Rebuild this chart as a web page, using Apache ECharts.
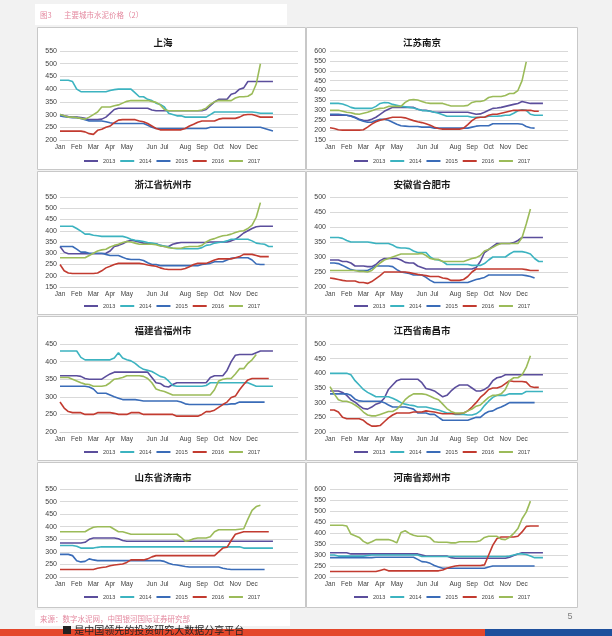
<!DOCTYPE html>
<html><head><meta charset="utf-8">
<script src="https://cdn.jsdelivr.net/npm/echarts@6/dist/echarts.min.js"></script>
<style>html,body{margin:0;padding:0;background:#f2f2f2;}#c{width:612px;height:636px;}</style>
</head><body><div id="c"></div>
<script>
// ---------- DATA ----------
const years = ['2013', '2014', '2015', '2016', '2017'];
// month of each weekly observation (52 weeks)
const weekMonth = ['Jan','Jan','Jan','Jan','Feb','Feb','Feb','Feb','Mar','Mar','Mar','Mar',
  'Apr','Apr','Apr','Apr','May','May','May','May','May','May','Jun','Jun','Jun',
  'Jul','Jul','Jul','Jul','Jul','Aug','Aug','Aug','Aug','Sep','Sep','Sep','Sep',
  'Oct','Oct','Oct','Oct','Nov','Nov','Nov','Nov','Dec','Dec','Dec','Dec','Dec','Dec'];
const cityNames = ['上海', '江苏南京', '浙江省杭州市', '安徽省合肥市', '福建省福州市', '江西省南昌市', '山东省济南市', '河南省郑州市'];
const yMin = [200, 150, 150, 200, 200, 200, 200, 200];
const yMax = [550, 600, 550, 500, 450, 500, 550, 600];
const yStep = 50;

const shanghai = [
  [300,295,292,290,290,288,285,280,280,280, 282,290,305,320,325,325,325,325,325,325, 325,325,318,315,315,315,315,315,315,315, 315,315,315,315,315,320,335,350,360,360, 360,380,385,400,405,430,430,430,430,430, 430,430],
  [435,435,435,430,400,390,390,390,390,390, 390,390,395,398,400,400,400,400,385,370, 370,360,355,345,340,330,305,300,295,295, 290,290,290,290,290,290,300,310,310,310, 310,310,310,310,310,310,310,308,305,305, 305,305],
  [295,292,290,288,288,285,280,275,275,275, 275,272,268,265,265,265,265,265,265,265, 265,258,250,245,245,245,245,245,245,245, 245,245,245,245,245,245,250,250,250,250, 250,250,250,250,250,250,250,250,250,245, 240,235],
  [235,235,235,235,235,235,232,225,222,238, 242,250,255,268,278,280,280,280,280,275, 272,265,255,245,240,240,240,240,240,240, 245,255,262,270,275,275,275,275,282,285, 285,285,285,290,298,300,300,295,290,290, 290,290],
  [300,295,290,290,288,285,282,290,300,310, 330,330,330,335,338,345,352,355,355,355, 355,355,352,348,338,320,315,315,315,315, 315,315,315,315,318,325,340,350,355,355, 355,355,365,370,370,372,382,420,500,null, null,null]
];
const nanjing = [
  [275,275,275,275,275,272,265,255,250,248, 255,265,280,295,305,315,315,315,315,315, 315,305,300,300,295,290,290,290,290,290, 290,290,290,290,285,280,282,290,300,310, 312,315,320,325,330,335,345,340,335,335, 335,335],
  [335,335,335,332,325,315,310,310,310,310, 310,320,335,340,338,330,325,320,318,315, 312,305,300,298,295,290,285,278,270,270, 270,270,270,270,265,265,265,265,270,270, 270,272,275,275,285,298,303,300,280,275, 275,275],
  [280,280,280,278,275,270,262,252,245,240, 240,248,255,255,250,240,230,222,220,218, 218,218,215,215,215,210,210,210,210,210, 210,210,210,210,215,220,222,222,222,232, 232,232,232,232,232,232,230,218,212,210, null,null],
  [212,208,202,200,200,200,200,200,202,215, 230,242,250,255,260,265,265,265,262,255, 248,242,238,232,225,215,208,205,205,205, 205,205,210,228,248,262,265,265,275,280, 280,285,290,295,300,300,300,300,300,295, 295,null],
  [300,300,300,295,290,288,282,280,285,290, 298,305,310,312,320,320,320,320,340,352, 355,352,345,338,335,335,335,335,328,322, 322,322,322,325,340,345,345,350,365,370, 370,370,375,385,385,400,450,545,null,null, null,null]
];
const hangzhou = [
  [330,305,298,298,298,298,298,298,298,298, 298,300,310,330,335,342,352,358,355,350, 345,342,342,342,335,330,330,340,345,348, 348,348,348,348,348,348,350,350,350,350, 350,355,362,375,390,400,410,418,420,420, 420,420],
  [420,420,420,420,410,398,385,385,380,378, 375,375,375,375,375,375,370,362,358,355, 352,348,345,342,335,332,328,322,320,320, 320,320,320,320,325,335,338,345,348,350, 355,362,362,362,362,362,355,345,342,340, 330,330],
  [330,330,330,330,318,305,305,300,300,300, 300,295,290,290,290,282,275,272,272,272, 268,258,250,250,245,245,245,245,245,245, 245,245,245,245,250,252,255,262,262,262, 270,278,280,280,280,280,270,252,250,250, null,null],
  [250,222,212,210,210,210,210,210,210,212, 222,235,242,250,255,255,255,255,255,255, 252,248,245,242,235,230,228,228,228,228, 232,240,250,255,255,255,262,270,275,275, 275,275,280,285,295,295,295,290,285,285, 285,null],
  [280,280,280,280,280,280,280,290,300,310, 315,318,328,335,340,348,352,350,345,340, 340,340,340,338,332,330,325,322,322,322, 328,330,330,330,335,350,360,365,372,378, 380,385,392,398,400,410,425,460,525,null, null,null]
];
const hefei = [
  [290,290,290,285,285,280,270,270,270,268, 268,275,288,295,295,295,295,290,282,280, 280,270,265,260,260,260,260,260,260,260, 260,260,260,260,260,265,285,315,325,335, 345,345,345,345,348,355,365,365,365,365, 365,365],
  [365,365,365,362,355,350,350,350,350,350, 348,345,345,345,345,340,332,330,330,328, 320,315,315,315,300,292,290,285,275,275, 275,275,275,275,272,272,272,278,290,300, 300,300,300,310,318,318,318,315,310,295, 285,285],
  [280,280,278,272,265,258,255,255,255,255, 262,270,270,270,270,268,258,250,248,245, 240,240,240,232,222,215,215,215,215,215, 215,215,215,215,220,225,228,232,240,240, 240,240,240,240,240,240,240,238,235,230, null,null],
  [230,228,225,222,220,220,220,215,215,212, 218,228,238,250,250,250,250,250,250,248, 245,242,240,238,235,235,235,230,228,222, 222,222,225,235,250,260,260,260,260,260, 260,260,260,260,260,260,260,258,255,255, 255,null],
  [255,255,255,255,255,255,255,252,252,250, 255,268,280,290,295,300,305,310,310,310, 310,310,312,305,295,292,292,285,285,285, 285,285,285,290,295,298,305,320,325,332, 340,345,345,345,345,345,365,410,460,null, null,null]
];
const fuzhou = [
  [360,360,360,360,360,358,352,350,350,350, 350,358,365,370,370,370,370,370,370,370, 370,370,355,340,338,330,328,335,340,340, 340,340,340,340,340,340,355,360,360,360, 375,400,418,420,420,420,420,425,430,430, 430,430],
  [430,430,430,430,430,412,405,405,405,405, 405,405,405,410,425,410,405,402,395,385, 378,375,372,365,358,355,345,332,330,330, 330,330,330,330,330,332,340,340,340,340, 340,340,340,340,340,340,335,330,330,330, 330,330],
  [330,330,330,330,330,330,330,328,322,310, 310,310,305,300,296,292,292,292,292,290, 288,288,288,288,288,288,288,288,288,285, 280,278,278,278,278,278,278,278,278,278, 278,280,280,285,285,285,285,285,285,285, null,null],
  [285,268,258,255,255,255,250,250,250,255, 255,255,255,253,250,250,250,255,255,255, 250,250,250,250,250,250,250,250,245,245, 245,245,245,245,250,258,258,262,270,278, 285,298,302,320,335,348,352,352,352,352, 352,null],
  [355,355,355,350,345,340,336,335,330,330, 330,332,340,350,352,355,360,360,360,360, 358,352,340,322,318,315,310,305,305,305, 305,305,305,305,305,305,305,320,345,350, 352,352,365,380,380,395,405,420,null,null, null,null]
];
const nanchang = [
  [340,340,340,335,325,310,302,290,280,278, 285,295,300,315,345,360,375,380,380,380, 380,380,368,348,345,340,330,320,325,340, 352,360,360,360,350,340,340,345,355,375, 385,388,395,395,395,395,395,395,395,395, 395,395],
  [400,400,400,400,400,395,375,360,345,335, 328,320,320,320,320,315,308,300,295,292, 290,285,285,285,282,278,275,270,265,265, 260,260,260,258,258,262,272,290,305,318, 325,325,325,330,330,330,330,338,338,338, 338,338],
  [330,330,330,330,330,325,312,306,305,305, 305,305,305,300,292,285,285,285,285,282, 278,265,265,265,260,260,250,240,240,240, 240,240,240,240,245,250,250,262,270,272, 280,285,292,300,300,300,300,300,300,300, null,null],
  [275,275,268,250,245,245,245,245,240,228, 220,220,222,235,248,258,265,265,265,265, 268,268,268,272,270,268,265,262,262,262, 262,262,265,272,285,300,318,330,345,350, 350,355,365,375,372,372,372,370,355,352, 352,null],
  [355,330,310,305,305,300,292,282,268,258, 255,255,260,265,270,270,278,292,310,322, 330,330,330,328,322,315,310,295,280,270, 265,265,265,272,278,288,292,305,318,325, 325,330,345,375,385,385,395,420,460,null, null,null]
];
const jinan = [
  [335,335,335,335,335,335,338,350,355,355, 355,355,355,355,352,345,342,342,342,342, 342,342,342,342,342,342,342,342,342,342, 342,342,342,342,342,342,342,342,342,342, 342,342,342,342,342,342,342,342,342,342, 342,342],
  [325,325,325,325,322,315,315,315,315,318, 320,320,320,320,320,320,320,320,320,320, 320,320,320,320,320,320,320,320,320,320, 320,320,320,320,320,320,320,320,320,320, 320,320,320,320,315,315,315,315,315,315, 315,315],
  [290,290,290,285,265,260,262,272,268,265, 265,265,265,265,265,265,265,265,265,265, 265,265,265,265,265,262,255,250,248,245, 242,240,240,240,240,240,240,240,240,235, 232,230,230,230,230,230,230,230,230,230, null,null],
  [230,230,230,230,230,230,230,230,230,235, 238,240,245,248,250,252,258,268,268,268, 268,272,280,285,285,285,285,285,285,285, 285,285,285,285,285,285,285,285,300,315, 318,345,370,375,380,380,380,380,380,380, 380,null],
  [380,380,380,380,380,380,380,390,398,400, 400,400,400,390,380,380,375,370,370,370, 370,370,370,370,370,370,370,370,370,358, 342,345,352,355,355,355,360,380,388,388, 388,388,388,390,392,430,465,480,485,null, null,null]
];
const zhengzhou = [
  [310,310,310,310,310,305,305,305,305,305, 305,305,305,305,305,305,305,305,305,305, 305,305,300,295,295,295,295,295,295,288, 285,285,285,285,285,285,285,285,285,285, 285,285,285,290,298,305,310,310,310,310, 310,310],
  [300,300,295,295,295,295,295,295,295,298, 300,300,300,300,300,300,300,300,300,300, 300,300,293,293,293,293,293,293,293,293, 293,293,293,293,293,293,293,293,293,293, 293,293,293,295,300,305,305,302,295,288, 288,288],
  [288,288,288,288,288,288,288,288,288,288, 288,290,290,290,290,290,290,290,290,290, 290,280,270,268,262,252,245,240,240,240, 240,240,240,240,240,240,240,240,245,250, 250,250,250,250,250,250,250,250,250,250, null,null],
  [225,225,225,225,225,225,225,225,225,225, 225,225,230,235,228,228,228,228,228,228, 228,228,228,228,228,228,228,232,240,245, 250,252,252,252,252,252,252,255,300,345, 375,382,382,382,382,385,405,430,432,432, 432,null],
  [435,435,435,435,432,395,388,380,362,352, 360,370,370,370,370,365,355,402,410,398, 390,385,385,385,378,360,358,358,358,355, 355,360,360,360,360,360,365,380,385,385, 385,372,370,380,398,420,465,495,545,null, null,null]
];
const cityData = [shanghai, nanjing, hangzhou, hefei, fuzhou, nanchang, jinan, zhengzhou];

// ---------- STYLE / LAYOUT ----------
const colors = ['#5b4e9c', '#3cb3c0', '#3a6cb8', '#c23b30', '#9bbb59'];
const colX = [{left: 60, panel: [37, 305], title: 163, legend: 84, labelMargin: 3},
              {left: 330, panel: [306, 577], title: 422, legend: 354, labelMargin: 4}];
const rowY = [{top: 51, h: 89, panel: [27, 169], title: 42, legend: 158},
              {top: 197, h: 90, panel: [171, 314], title: 184, legend: 303},
              {top: 344, h: 88, panel: [316, 460], title: 330, legend: 449},
              {top: 489, h: 88, panel: [462, 607], title: 477, legend: 594}];
const plotW = 238;
let seen = {};
const weeks = weekMonth.map(m => { seen[m] = (seen[m] || 0) + 1; return m + '-' + seen[m]; });

const grid = [], xAxis = [], yAxis = [], series = [], legend = [], graphics = [];
const latin = '"Liberation Sans", Arial, sans-serif';
const cjk = '"Noto Sans CJK SC", sans-serif';

// header
graphics.push({type: 'rect', z: -10, shape: {x: 35, y: 4, width: 252, height: 21}, style: {fill: '#ffffff'}});
graphics.push({type: 'text', z: 10, x: 40, y: 15, style: {text: '图3', fontSize: 7.5, fontFamily: cjk, fill: '#e48aa0', verticalAlign: 'middle'}});
graphics.push({type: 'text', z: 10, x: 64, y: 15, style: {text: '主要城市水泥价格（2）', fontSize: 7.5, fontFamily: cjk, fill: '#e48aa0', verticalAlign: 'middle'}});

cityNames.forEach((name, i) => {
  const c = colX[i % 2], r = rowY[Math.floor(i / 2)];
  graphics.push({type: 'rect', z: -10,
    shape: {x: c.panel[0] + 0.5, y: r.panel[0] + 0.5, width: c.panel[1] - c.panel[0], height: r.panel[1] - r.panel[0]},
    style: {fill: '#ffffff', stroke: '#c8c8c8', lineWidth: 1}});
  graphics.push({type: 'text', z: 10, x: c.title, y: r.title,
    style: {text: name, fontSize: 9.5, fontWeight: 'bold', fontFamily: cjk, fill: '#1a1a1a', align: 'center', verticalAlign: 'middle'}});
  grid.push({left: c.left, top: r.top, width: plotW, height: r.h, containLabel: false});
  xAxis.push({type: 'category', gridIndex: i, data: weeks, boundaryGap: false, max: 57,
    axisLine: {show: true, lineStyle: {color: '#d0d0d0', width: 1}},
    axisTick: {show: false}, splitLine: {show: false},
    axisLabel: {interval: 0, margin: 4, fontSize: 6.5, color: '#404040', fontFamily: latin,
      formatter: v => (typeof v === 'string' && /-1$/.test(v)) ? v.split('-')[0] : ''}});
  yAxis.push({type: 'value', gridIndex: i, min: yMin[i], max: yMax[i], interval: yStep,
    axisLine: {show: false}, axisTick: {show: false},
    splitLine: {lineStyle: {color: '#d9d9d9', width: 1}},
    axisLabel: {margin: c.labelMargin, fontSize: 7, color: '#404040', fontFamily: latin}});
  years.forEach((y, k) => {
    series.push({type: 'line', name: y, xAxisIndex: i, yAxisIndex: i, data: cityData[i][k],
      showSymbol: false, symbol: 'none', connectNulls: false, animation: false,
      lineStyle: {width: 1.6, color: colors[k]}, itemStyle: {color: colors[k]}});
  });
  legend.push({data: years, left: c.legend, top: r.legend, icon: 'rect', itemWidth: 14, itemHeight: 2,
    itemGap: 5, padding: 0, selectedMode: false,
    textStyle: {fontSize: 5.5, color: '#404040', fontFamily: latin}});
});

// footer
graphics.push({type: 'rect', z: -10, shape: {x: 35, y: 610, width: 255, height: 16}, style: {fill: '#ffffff'}});
graphics.push({type: 'text', z: 10, x: 40, y: 619, style: {text: '来源：数字水泥网，中国银河国际证券研究部', fontSize: 7.5, fontFamily: cjk, fill: '#e48aa0', verticalAlign: 'middle'}});
graphics.push({type: 'text', z: 10, x: 570, y: 617, style: {text: '5', fontSize: 9, fontFamily: latin, fill: '#808080', align: 'center', verticalAlign: 'middle'}});
graphics.push({type: 'rect', z: -5, shape: {x: 0, y: 629, width: 485, height: 7}, style: {fill: '#e4472b'}});
graphics.push({type: 'rect', z: -5, shape: {x: 485, y: 629, width: 127, height: 7}, style: {fill: '#1e4f9c'}});
graphics.push({type: 'text', z: 10, x: 62, y: 625, style: {text: '■ 是中国领先的投资研究大数据分享平台', fontSize: 10, fontFamily: cjk, fill: '#222222', verticalAlign: 'top'}});

const chart = echarts.init(document.getElementById('c'), null, {renderer: 'canvas'});
chart.setOption({
  animation: false,
  color: colors,
  grid, xAxis, yAxis, series, legend,
  graphic: {elements: graphics}
});
</script></body></html>
